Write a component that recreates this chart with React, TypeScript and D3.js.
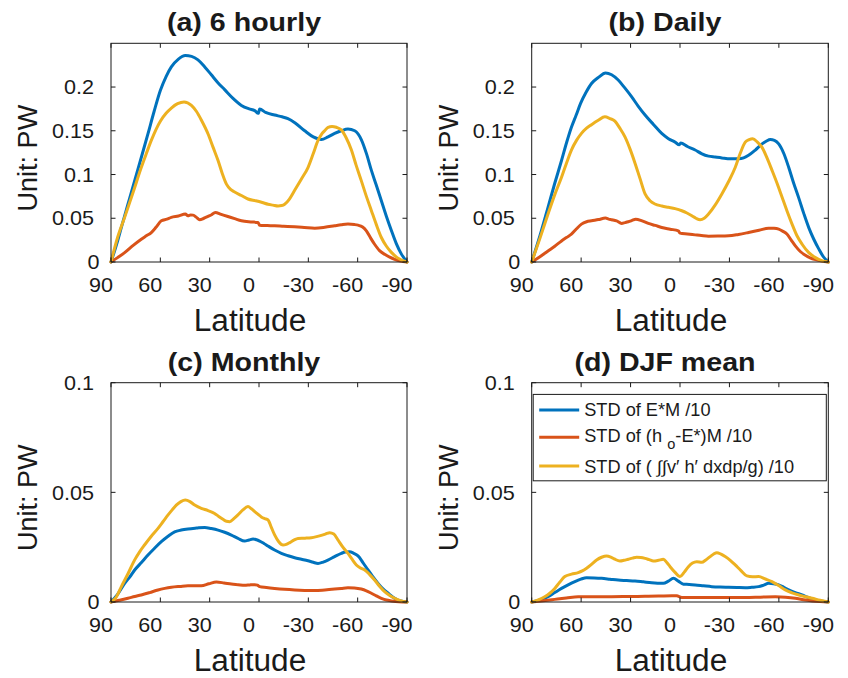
import React from 'react';
import * as d3 from 'd3';

type Pt = [number, number];

// ---------- data: [latitude, PW] ----------
const hourly6EM: Pt[] = [[90,0],[86,0.024],[83.7,0.0395],[79.7,0.066],[75.6,0.0931],[71.5,0.120],[67.5,0.1467],[63.8,0.172],[60,0.196],[56.5,0.212],[53.3,0.223],[49,0.232],[44.8,0.236],[41,0.235],[37.1,0.231],[33,0.223],[29.0,0.214],[25,0.205],[20.9,0.197],[15.8,0.187],[10.7,0.179],[6,0.175],[2.6,0.173],[0.4,0.170],[-0.4,0.175],[-4,0.171],[-9.5,0.168],[-14,0.166],[-17.6,0.164],[-22,0.159],[-27.8,0.150],[-33,0.143],[-37.9,0.140],[-42,0.143],[-46,0.147],[-50,0.150],[-54.1,0.152],[-58.2,0.150],[-62.2,0.140],[-65.5,0.123],[-68.3,0.105],[-71.3,0.088],[-74.4,0.070],[-77.5,0.052],[-80.5,0.036],[-83.5,0.021],[-86.6,0.009],[-90,0]];
const hourly6HoE: Pt[] = [[90,0],[86,0.005],[81.7,0.0107],[76.5,0.019],[71.6,0.0261],[68.5,0.030],[65.5,0.0337],[62.5,0.040],[59.4,0.0471],[56,0.049],[53.3,0.0510],[49,0.0525],[44.8,0.0548],[43.2,0.0529],[41.6,0.0538],[40.1,0.0536],[38,0.051],[36.1,0.0483],[33.5,0.050],[31,0.0521],[28.8,0.0540],[26.6,0.0567],[23,0.0545],[18.9,0.0520],[14.8,0.0495],[10.7,0.0471],[5,0.0458],[0.6,0.0452],[-0.4,0.0421],[-5,0.0417],[-9.5,0.0414],[-15,0.0408],[-21.6,0.0402],[-27.5,0.0395],[-33.9,0.0387],[-40,0.0397],[-46,0.0414],[-50,0.0425],[-54.1,0.0433],[-58,0.0428],[-60.2,0.0421],[-63,0.040],[-65.3,0.0356],[-68,0.027],[-70.3,0.0203],[-73.3,0.013],[-76.4,0.0088],[-79.5,0.0055],[-82.5,0.0031],[-86,0.0012],[-90,0]];
const hourly6Flux: Pt[] = [[90,0],[86,0.028],[81.7,0.051],[76.5,0.080],[71.6,0.108],[68.5,0.124],[65.5,0.139],[60,0.161],[56.5,0.170],[53.3,0.176],[49.5,0.181],[45.6,0.183],[41.1,0.179],[38,0.172],[35,0.162],[30.9,0.146],[27.9,0.131],[24.9,0.116],[22.3,0.101],[19.8,0.089],[17.3,0.083],[14.8,0.080],[10.7,0.076],[6.7,0.072],[2,0.070],[-2,0.068],[-5.5,0.066],[-8.5,0.065],[-11.6,0.064],[-13.8,0.0645],[-15.6,0.066],[-18.5,0.072],[-21.7,0.082],[-25.8,0.095],[-29.8,0.108],[-33,0.124],[-35.9,0.139],[-38,0.146],[-39.9,0.150],[-42,0.154],[-44.4,0.155],[-47,0.154],[-50.1,0.151],[-53,0.142],[-56.2,0.128],[-59,0.111],[-62.2,0.093],[-65.3,0.075],[-68.3,0.059],[-71.3,0.043],[-74.4,0.028],[-77.5,0.018],[-80.5,0.011],[-84,0.005],[-90,0]];

const dailyEM: Pt[] = [[90,0],[85,0.030],[80.1,0.0625],[76,0.090],[71.9,0.116],[68.9,0.136],[65.9,0.154],[63,0.168],[60.4,0.181],[57,0.194],[53.7,0.204],[49.5,0.211],[45.2,0.216],[41.5,0.214],[37.5,0.208],[33.5,0.199],[29.4,0.189],[25.3,0.178],[21.2,0.168],[16,0.157],[11.1,0.147],[7,0.141],[3,0.137],[0.4,0.134],[-0.4,0.136],[-4.5,0.132],[-9.2,0.128],[-13,0.124],[-17.3,0.121],[-21.3,0.120],[-25.4,0.119],[-30.5,0.118],[-35.6,0.118],[-38.6,0.119],[-41.6,0.122],[-45.7,0.128],[-49.8,0.135],[-52.3,0.138],[-54.8,0.140],[-57.3,0.139],[-59.9,0.135],[-63,0.124],[-66,0.108],[-69,0.090],[-72.1,0.073],[-75.2,0.055],[-78.2,0.039],[-81.2,0.026],[-84.2,0.015],[-87,0.006],[-90,0]];
const dailyHoE: Pt[] = [[90,0],[85,0.006],[80.1,0.0126],[76,0.018],[71.9,0.0241],[68.9,0.028],[65.9,0.0318],[62.8,0.038],[59.8,0.0433],[56.7,0.046],[53.7,0.0471],[49.5,0.0485],[45.2,0.0502],[43.3,0.049],[41.5,0.0483],[38.5,0.047],[35.4,0.0441],[33.4,0.045],[31.4,0.0460],[29.1,0.0475],[26.9,0.0490],[23,0.047],[19.2,0.0441],[15,0.0418],[11.1,0.0395],[6,0.0375],[1,0.0356],[0,0.0330],[-4.5,0.032],[-9.2,0.0310],[-13,0.0302],[-17.3,0.0295],[-23,0.0296],[-29.5,0.0299],[-35.5,0.0315],[-41.6,0.0337],[-48,0.0362],[-53.8,0.0387],[-57,0.0385],[-59.9,0.0375],[-62.5,0.035],[-65.0,0.0318],[-67.5,0.025],[-70.0,0.0184],[-73,0.012],[-76.1,0.0077],[-79,0.0048],[-82.2,0.0027],[-86,0.001],[-90,0]];
const dailyFlux: Pt[] = [[90,0],[85,0.027],[80.1,0.0548],[76,0.077],[71.9,0.0969],[68.9,0.113],[65.9,0.128],[62.8,0.139],[59.8,0.147],[56.7,0.153],[53.7,0.157],[49.6,0.162],[45.6,0.166],[42.5,0.164],[39.5,0.161],[36.5,0.153],[33.4,0.143],[30.3,0.129],[27.3,0.113],[24.2,0.095],[21.2,0.0778],[18.2,0.070],[15.2,0.0663],[11,0.064],[7.0,0.0625],[3,0.061],[-1.1,0.0586],[-4.2,0.056],[-7.2,0.0529],[-9.7,0.050],[-12.2,0.0483],[-14.7,0.050],[-17.3,0.0548],[-21.3,0.065],[-25.4,0.0778],[-29.5,0.092],[-33.5,0.108],[-36.5,0.124],[-39.6,0.137],[-42,0.140],[-44.1,0.141],[-47,0.137],[-49.8,0.131],[-52.8,0.119],[-55.8,0.105],[-58.9,0.090],[-61.9,0.0743],[-65,0.058],[-68.0,0.0433],[-71,0.030],[-74.1,0.0203],[-78,0.011],[-82.2,0.005],[-86,0.0015],[-90,0]];

const monthlyEM: Pt[] = [[90,0],[86,0.0035],[81.7,0.0085],[78.5,0.0115],[75.6,0.0146],[71.5,0.018],[67.5,0.0214],[63.5,0.0245],[59.4,0.0275],[55.3,0.0300],[51.3,0.0320],[47.3,0.0328],[43.2,0.0333],[38,0.0337],[33.0,0.0340],[29,0.0335],[24.9,0.0328],[20.9,0.0318],[16.8,0.0305],[12.8,0.029],[8.7,0.0278],[6,0.0283],[3.6,0.0287],[1.5,0.0284],[-0.4,0.0278],[-3,0.0267],[-5.5,0.0255],[-9.5,0.0237],[-13.6,0.0222],[-17.7,0.0211],[-21.7,0.0202],[-25.8,0.0195],[-29.8,0.0188],[-33,0.0181],[-35.9,0.0176],[-39,0.0182],[-41.9,0.0191],[-46,0.0207],[-50.1,0.0222],[-52.6,0.0228],[-55.1,0.0229],[-57.6,0.0222],[-60.2,0.0210],[-63.2,0.0180],[-66.3,0.0146],[-69.3,0.0115],[-72.4,0.0085],[-75.4,0.006],[-78.5,0.0040],[-81.5,0.0022],[-84.5,0.0009],[-90,0]];
const monthlyHoE: Pt[] = [[90,0],[85,0.0008],[79.7,0.0017],[75.6,0.0025],[71.6,0.0032],[66.5,0.0043],[61.4,0.0055],[57.3,0.0062],[53.3,0.0067],[48,0.0071],[43.2,0.0074],[39,0.0074],[35.1,0.0074],[30.5,0.0083],[25.9,0.0091],[21.3,0.0087],[16.8,0.0082],[12.7,0.0079],[8.7,0.0076],[5.5,0.0078],[2.6,0.0079],[1,0.0077],[-0.4,0.0070],[-4.5,0.0066],[-9.5,0.0062],[-15.5,0.0058],[-21.7,0.0055],[-27.8,0.0053],[-33.9,0.0052],[-40,0.0055],[-46.0,0.0059],[-50,0.0062],[-54.1,0.0065],[-58,0.0064],[-62.2,0.0059],[-65.3,0.0051],[-68.3,0.0040],[-71.3,0.0028],[-74.4,0.0017],[-77.5,0.0009],[-80.5,0.0005],[-85,0.0001],[-90,0]];
const monthlyFlux: Pt[] = [[90,0],[87,0.002],[83.7,0.0070],[79.6,0.0130],[75.6,0.0192],[72.5,0.0230],[69.5,0.0261],[65.5,0.030],[61.4,0.0336],[58.3,0.0367],[55.3,0.0397],[52.8,0.042],[50.3,0.0442],[47.5,0.0458],[44.8,0.0465],[42,0.0458],[39.1,0.0442],[35.1,0.0427],[31,0.0417],[27.0,0.0404],[24.5,0.039],[21.9,0.0377],[19.8,0.0368],[17.8,0.0366],[15.3,0.038],[12.8,0.0397],[9.8,0.042],[6.7,0.0435],[4.6,0.0425],[2.6,0.0412],[0.6,0.040],[-1.4,0.0388],[-3.5,0.038],[-5.5,0.0374],[-7.5,0.034],[-9.5,0.0306],[-12,0.0275],[-14.6,0.0260],[-16.6,0.0263],[-18.7,0.0271],[-21.2,0.0282],[-23.7,0.0290],[-28,0.0291],[-31.8,0.0293],[-35,0.0298],[-37.9,0.0304],[-40.5,0.031],[-43.0,0.0316],[-45.5,0.031],[-48.0,0.0283],[-51,0.025],[-54.1,0.0222],[-56.6,0.0195],[-59.2,0.0169],[-61.7,0.0155],[-64.3,0.0146],[-67.3,0.0125],[-70.3,0.0100],[-73.3,0.0072],[-76.4,0.0047],[-79.5,0.0030],[-82.5,0.0017],[-86,0.0006],[-90,0]];

const djfEM: Pt[] = [[90,0],[85,0.0010],[80.1,0.0024],[76,0.0043],[71.9,0.0062],[67.9,0.0078],[63.8,0.0093],[60.2,0.0104],[56.7,0.0111],[52,0.0110],[47.6,0.0108],[42.5,0.0104],[37.5,0.0100],[32.4,0.0098],[27.3,0.0096],[22.2,0.0092],[17.2,0.0088],[13.6,0.0086],[10.1,0.0085],[7,0.0095],[4.0,0.0108],[1,0.0095],[-2.1,0.0081],[-5.6,0.0080],[-9.2,0.0078],[-14.2,0.0074],[-19.3,0.0070],[-24.4,0.0068],[-29.5,0.0067],[-34.5,0.0066],[-39.6,0.0065],[-43.6,0.0067],[-47.7,0.0070],[-50.8,0.0077],[-53.8,0.0085],[-56.8,0.0083],[-59.9,0.0078],[-63,0.0067],[-66.0,0.0055],[-70,0.0043],[-74.1,0.0032],[-78.1,0.0020],[-82.2,0.0009],[-86,0.0003],[-90,0]];
const djfHoE: Pt[] = [[90,0],[83,0.0006],[76.0,0.0012],[69,0.0018],[61.8,0.0024],[51.6,0.0024],[41.5,0.0024],[31.3,0.0025],[21.2,0.0026],[13,0.0027],[5.0,0.0029],[2,0.0028],[-1.1,0.0021],[-10,0.0020],[-19.3,0.0020],[-29.5,0.0020],[-39.6,0.0020],[-48.8,0.0022],[-57.9,0.0024],[-64,0.0022],[-70.0,0.0017],[-75,0.0010],[-80.2,0.0005],[-85,0.0002],[-90,0]];
const djfFlux: Pt[] = [[90,0],[86,0.0010],[82.1,0.0024],[79,0.0040],[76.0,0.0062],[73,0.0090],[69.9,0.0116],[65.8,0.0127],[61.8,0.0134],[59.3,0.0142],[56.7,0.0154],[53.7,0.0172],[50.6,0.0192],[47.6,0.0204],[44.6,0.0210],[42,0.0205],[39.5,0.0195],[36.5,0.0187],[34,0.019],[31.4,0.0195],[28.8,0.0200],[26.3,0.0204],[23.8,0.0203],[21.2,0.0199],[18.7,0.0193],[16.2,0.0187],[13.1,0.0190],[10.1,0.0195],[8,0.018],[6.0,0.0161],[3,0.0135],[0,0.0116],[-2.5,0.0135],[-5.1,0.0161],[-7.6,0.0178],[-10.2,0.0184],[-13.2,0.0181],[-15.7,0.0192],[-18.3,0.0207],[-20.3,0.0218],[-22.4,0.0225],[-24.9,0.0218],[-27.4,0.0207],[-30.5,0.0190],[-33.5,0.0169],[-37,0.0143],[-40.6,0.0119],[-44,0.0115],[-47.7,0.0116],[-51.8,0.0105],[-55.8,0.0093],[-59.9,0.0075],[-63.9,0.0055],[-68,0.0042],[-72.1,0.0032],[-76.2,0.0024],[-80.2,0.0017],[-85,0.0008],[-90,0]];

const xTicks = [90, 60, 30, 0, -30, -60, -90];
const yTicksUpper = [0, 0.05, 0.1, 0.15, 0.2];
const yTicksLower = [0, 0.05, 0.1];
const panelTitles = ['(a) 6 hourly', '(b) Daily', '(c) Monthly', '(d) DJF mean'];
const seriesColors = ['#0072BD', '#D95319', '#EDB120'];

const FONT = '"Liberation Sans", Arial, Helvetica, sans-serif';
const INK = '#1a1a1a';

function T(props: any) {
  const { x, y, sx = 1, anchor = 'start', size, weight = 'normal', rotate = 0, children } = props;
  return (
    <text
      transform={`translate(${x},${y}) rotate(${rotate}) scale(${sx},1)`}
      textAnchor={anchor}
      fontSize={size}
      fontWeight={weight}
      fontFamily={FONT}
      fill={INK}
    >
      {children}
    </text>
  );
}

function Panel(props: any) {
  const { x0, x1, y0, y1, ymax, yticks, title, series, legend } = props;
  const xs = d3.scaleLinear().domain([90, -90]).range([x0, x1]);
  const ys = d3.scaleLinear().domain([0, ymax]).range([y1, y0]);
  const line = d3.line<Pt>().x(d => xs(d[0])).y(d => ys(d[1])).curve(d3.curveMonotoneX);
  const cx = (x0 + x1) / 2;
  const cy = (y0 + y1) / 2;
  const tl = 4.5;
  return (
    <g>
      {series.map((s: Pt[], i: number) => (
        <path key={i} d={line(s) || ''} fill="none" stroke={seriesColors[i]} strokeWidth={3} strokeLinejoin="round" strokeLinecap="round" />
      ))}
      <rect x={x0} y={y0} width={x1 - x0} height={y1 - y0} fill="none" stroke={INK} strokeWidth={1} />
      {xTicks.map(t => (
        <g key={'x' + t}>
          <line x1={xs(t)} x2={xs(t)} y1={y1} y2={y1 - tl} stroke={INK} />
          <line x1={xs(t)} x2={xs(t)} y1={y0} y2={y0 + tl} stroke={INK} />
          <T x={xs(t) - 10} y={y1 + 29.7} anchor="middle" size={20} sx={1.08}>{String(t)}</T>
        </g>
      ))}
      {yticks.map((t: number) => (
        <g key={'y' + t}>
          <line x1={x0} x2={x0 + tl} y1={ys(t)} y2={ys(t)} stroke={INK} />
          <line x1={x1} x2={x1 - tl} y1={ys(t)} y2={ys(t)} stroke={INK} />
          <T x={t === 0 ? x0 - 11.5 : x0 - 17} y={ys(t) + 7.2} anchor="end" size={20} sx={1.08}>{String(t)}</T>
        </g>
      ))}
      <T x={cx - 15} y={y0 - 12} anchor="middle" size={26} weight="bold" sx={1.1}>{title}</T>
      <T x={cx - 9} y={y1 + 69} anchor="middle" size={31} sx={1.02}>Latitude</T>
      <T x={x0 - 84 + 10} y={cy + 5.5} anchor="middle" size={27} rotate={-90}>Unit: PW</T>
      {legend && (
        <g>
          <rect x={x0 + 1.5} y={y0 + 11.7} width={x1 - x0 - 3.5} height={86.4} fill="#fff" stroke={INK} strokeWidth={1} />
          {seriesColors.map((c, i) => {
            const ly = [y0 + 27.3, y0 + 54.6, y0 + 83.3][i];
            return <line key={i} x1={x0 + 7.5} x2={x0 + 47.5} y1={ly} y2={ly} stroke={c} strokeWidth={3} />;
          })}
          <T x={x0 + 52.5} y={y0 + 33.5} size={17.5} sx={1.04}>STD of E*M /10</T>
          <T x={x0 + 52.5} y={y0 + 59.5} size={17.5} sx={1.04}>
            STD of (h<tspan dx={5} dy={7} fontSize={14}>o</tspan><tspan dy={-7}>-E*)M /10</tspan>
          </T>
          <T x={x0 + 52.5} y={y0 + 90} size={17.5} sx={1.04}>STD of ( ∫∫v′ h′ dxdp/g) /10</T>
        </g>
      )}
    </g>
  );
}

export default function App() {
  const L = [111, 407];
  const R = [531.7, 828.3];
  const TOP = [43.3, 262];
  const BOT = [382.7, 602];
  return (
    <div>
      <style>{`body{margin:0;background:#fff}`}</style>
      <svg width={848} height={678} style={{ display: 'block', background: '#fff' }}>
        <Panel x0={L[0]} x1={L[1]} y0={TOP[0]} y1={TOP[1]} ymax={0.25} yticks={yTicksUpper} title={panelTitles[0]} series={[hourly6EM, hourly6HoE, hourly6Flux]} />
        <Panel x0={R[0]} x1={R[1]} y0={TOP[0]} y1={TOP[1]} ymax={0.25} yticks={yTicksUpper} title={panelTitles[1]} series={[dailyEM, dailyHoE, dailyFlux]} />
        <Panel x0={L[0]} x1={L[1]} y0={BOT[0]} y1={BOT[1]} ymax={0.1} yticks={yTicksLower} title={panelTitles[2]} series={[monthlyEM, monthlyHoE, monthlyFlux]} />
        <Panel x0={R[0]} x1={R[1]} y0={BOT[0]} y1={BOT[1]} ymax={0.1} yticks={yTicksLower} title={panelTitles[3]} series={[djfEM, djfHoE, djfFlux]} legend />
      </svg>
    </div>
  );
}
